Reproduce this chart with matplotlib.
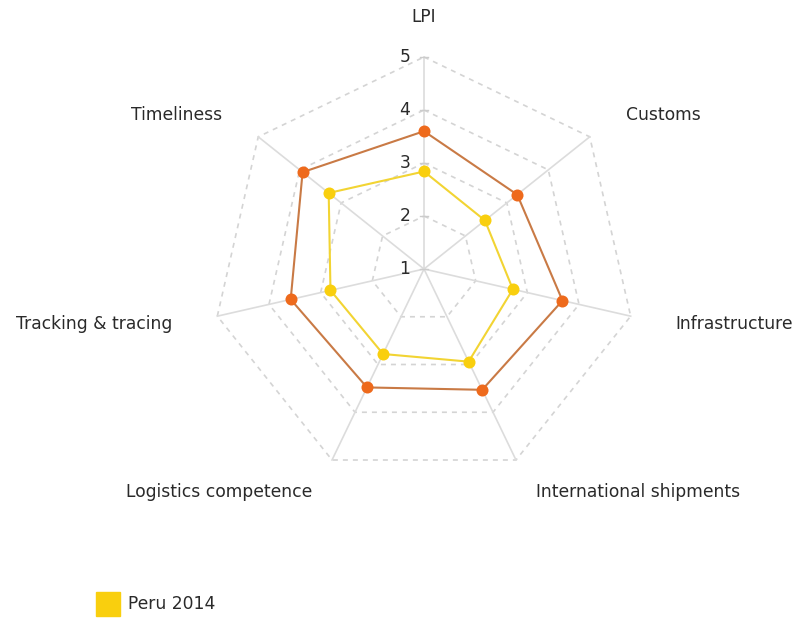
import numpy as np
import matplotlib
matplotlib.use("Agg")
import matplotlib.pyplot as plt
from matplotlib.patches import Rectangle

# axis names, clockwise from the top
categories = ['LPI', 'Customs', 'Infrastructure', 'International shipments',
              'Logistics competence', 'Tracking & tracing', 'Timeliness']

# values
peru_2014 = [2.84, 2.47, 2.72, 2.94, 2.78, 2.81, 3.30]
comparison = [3.60, 3.25, 3.68, 3.53, 3.48, 3.58, 3.93]

ticks = [1, 2, 3, 4, 5]
legend_label = 'Peru 2014'

r_min = 1.0
r_max = 5.0

yellow = '#f9cf0e'
yellow_line = '#f2d433'
orange = '#ee6a1c'
orange_line = '#c97a45'
grid_col = '#dcdcdc'
text_col = '#2a2a2a'

W, H = 805, 618
px_per_unit = 53.0
cx, cy = 424.0, 269.0


def to_xy(values, angles):
    r = np.asarray(values, dtype=float) - r_min
    return r * np.sin(angles), r * np.cos(angles)


def main_func():
    fig = plt.figure(figsize=(W / 100, H / 100), dpi=100)
    ax = fig.add_axes([0, 0, 1, 1])
    ax.set_xlim(-cx / px_per_unit, (W - cx) / px_per_unit)
    ax.set_ylim(-(H - cy) / px_per_unit, cy / px_per_unit)
    ax.axis('off')

    n = len(categories)
    angles = np.arange(n) * 2 * np.pi / n
    closed = np.append(angles, angles[0])

    # dashed rings
    for t in ticks[1:]:
        x, y = to_xy([t] * (n + 1), closed)
        ax.plot(x, y, color='#d4d4d4', lw=1.2, ls=(0, (3, 3)), zorder=1)

    # spokes
    for a in angles:
        x, y = to_xy([r_min, r_max], [a, a])
        ax.plot(x, y, color=grid_col, lw=1.2, zorder=1)

    # scale on the vertical axis
    tick_half = 0.07
    for t in ticks:
        ax.plot([-tick_half, tick_half], [t - r_min, t - r_min], color='#cccccc', lw=1, zorder=2)
        ax.text(-0.26, t - r_min, str(t), ha='right', va='center',
                fontsize=12.3, color=text_col, zorder=3)

    # series
    x, y = to_xy(np.append(comparison, comparison[0]), closed)
    ax.plot(x, y, color=orange_line, lw=1.5, zorder=4)
    ax.scatter(x[:-1], y[:-1], s=75, color=orange, zorder=5, linewidths=0)

    x, y = to_xy(np.append(peru_2014, peru_2014[0]), closed)
    ax.plot(x, y, color=yellow_line, lw=1.5, zorder=6)
    ax.scatter(x[:-1], y[:-1], s=75, color=yellow, zorder=7, linewidths=0)

    # category labels (slightly flattened ellipse round the chart)
    rx = 258 / px_per_unit
    ry = 247 / px_per_unit
    for name, a in zip(categories, angles):
        s = np.sin(a)
        if s > 0.1:
            ha = 'left'
        elif s < -0.1:
            ha = 'right'
        else:
            ha = 'center'
        ly = ry * np.cos(a)
        if ha == 'center':
            ly = 252 / px_per_unit
        ax.text(rx * s, ly, name, ha=ha, va='center',
                fontsize=12.3, color=text_col)

    # legend
    fig.patches.append(Rectangle((96 / W, 1 - 616 / H), 24 / W, 24 / H,
                                 transform=fig.transFigure, color=yellow))
    fig.text(128 / W, 1 - 604 / H, legend_label, ha='left', va='center',
             fontsize=12.3, color=text_col)

    fig.savefig('out.png', dpi=100)


if __name__ == '__main__':
    main_func()
